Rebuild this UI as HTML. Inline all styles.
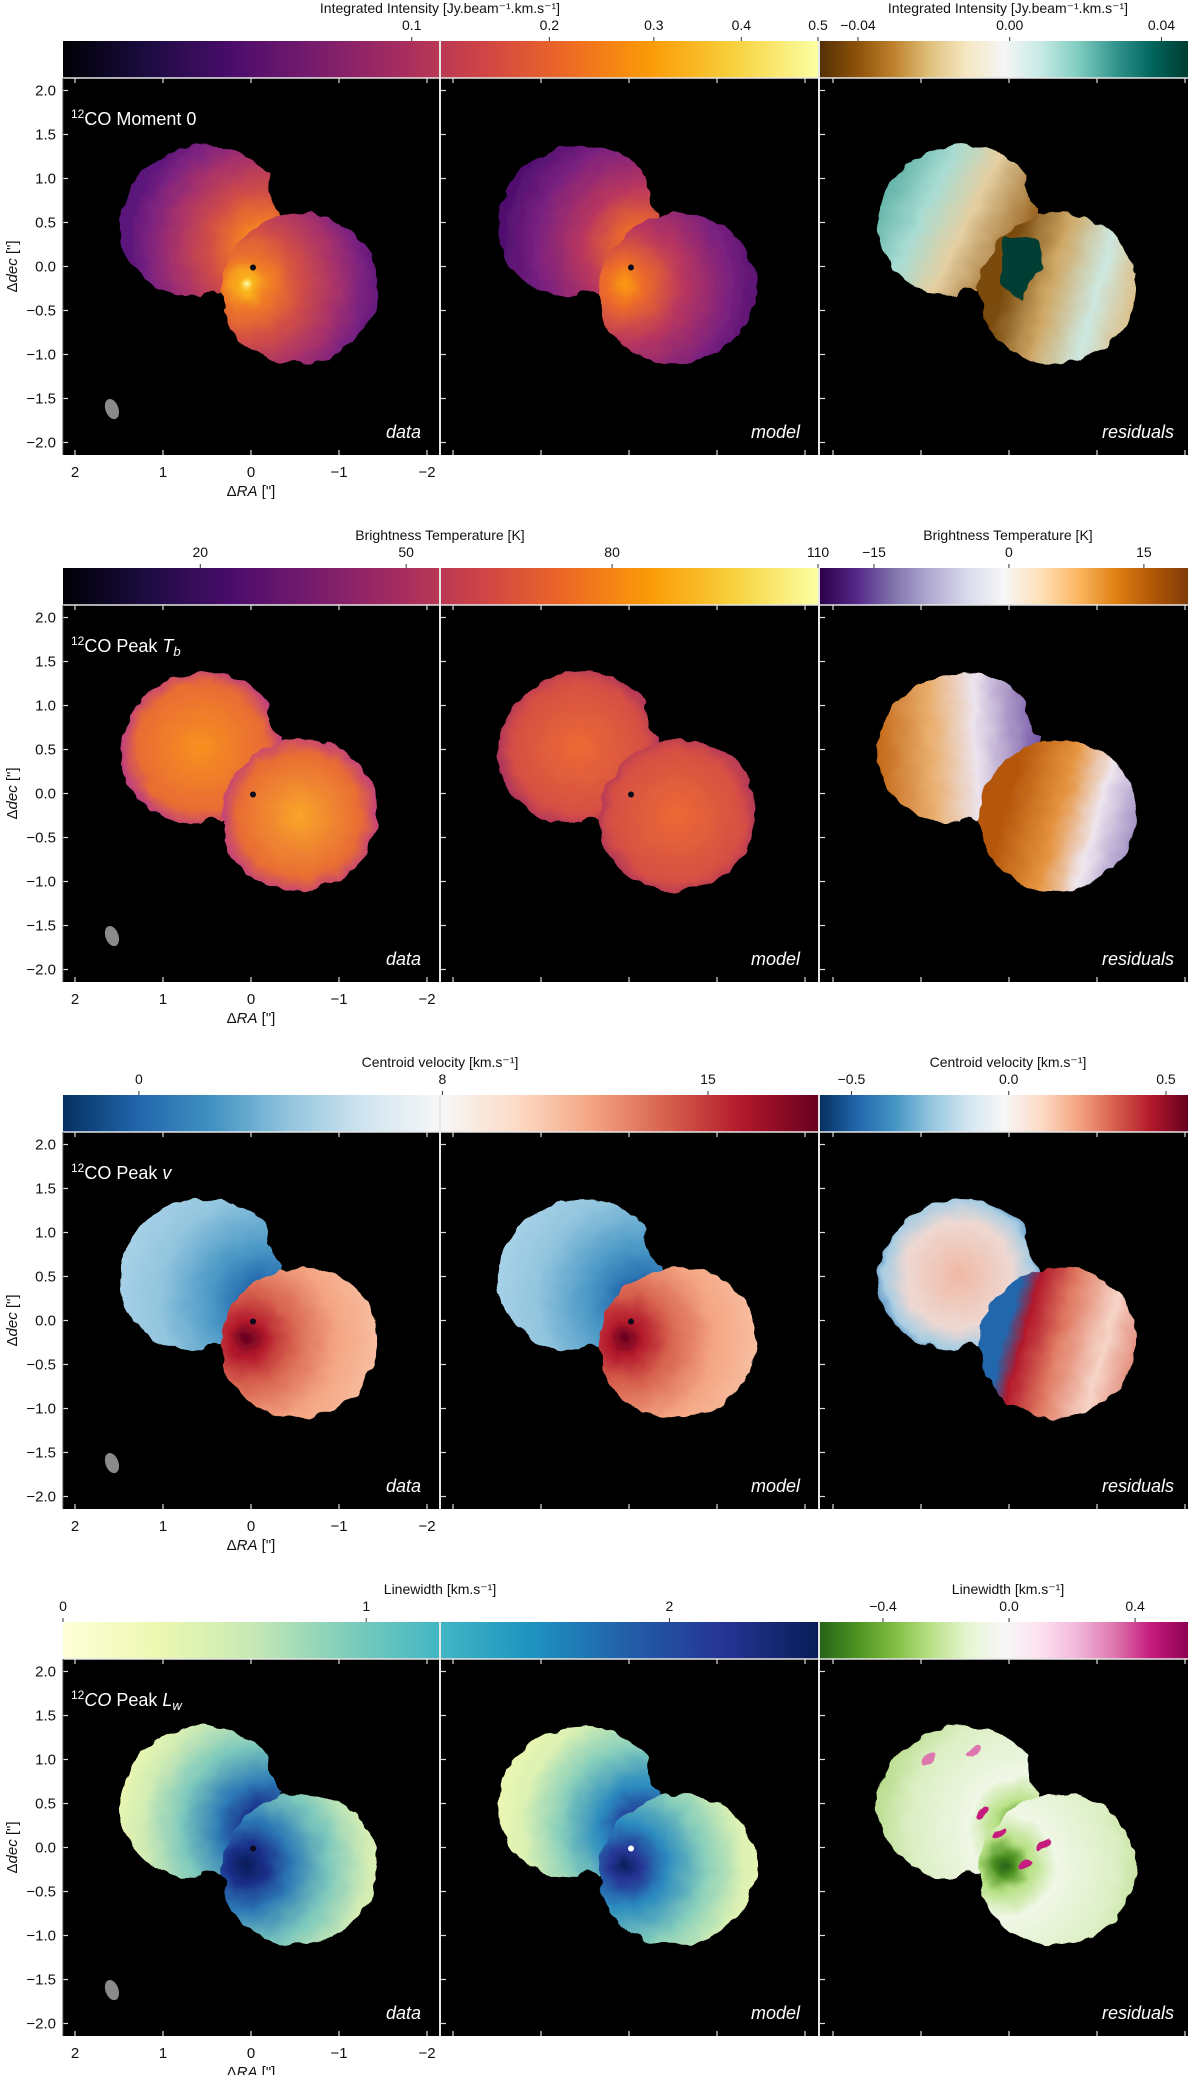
<!DOCTYPE html>
<html><head><meta charset="utf-8">
<style>
html,body{margin:0;padding:0;background:#fff;}
svg{display:block;font-family:"Liberation Sans","DejaVu Sans",sans-serif;}
</style></head>
<body>
<svg id="fig" width="1200" height="2075" viewBox="0 0 1200 2075" xmlns="http://www.w3.org/2000/svg"></svg>
<script>
// ---- data arrays ----
const rowKeys = ["mom0", "tb", "vel", "lw"];
const leftCbTitles = ["Integrated Intensity [Jy.beam\u207B\u00B9.km.s\u207B\u00B9]", "Brightness Temperature [K]", "Centroid velocity [km.s\u207B\u00B9]", "Linewidth [km.s\u207B\u00B9]"];
const rightCbTitles = ["Integrated Intensity [Jy.beam\u207B\u00B9.km.s\u207B\u00B9]", "Brightness Temperature [K]", "Centroid velocity [km.s\u207B\u00B9]", "Linewidth [km.s\u207B\u00B9]"];
const leftCbDomains = [[0, 0.5], [0, 110], [-2.0, 17.9], [0, 2.49]];
const leftCbGamma = [0.48, 1, 1, 1];
const leftCbTickValues = [[0.1, 0.2, 0.3, 0.4, 0.5], [20, 50, 80, 110], [0, 8, 15], [0, 1, 2]];
const leftCbTickLabels = [["0.1", "0.2", "0.3", "0.4", "0.5"], ["20", "50", "80", "110"], ["0", "8", "15"], ["0", "1", "2"]];
const rightCbDomains = [[-0.05, 0.047], [-21, 19.9], [-0.6, 0.57], [-0.6, 0.568]];
const rightCbTickValues = [[-0.04, 0, 0.04], [-15, 0, 15], [-0.5, 0, 0.5], [-0.4, 0, 0.4]];
const rightCbTickLabels = [["\u22120.04", "0.00", "0.04"], ["\u221215", "0", "15"], ["\u22120.5", "0.0", "0.5"], ["\u22120.4", "0.0", "0.4"]];
const raTicks = [2, 1, 0, -1, -2];
const raTickLabels = ["2", "1", "0", "\u22121", "\u22122"];
const decTicks = [2.0, 1.5, 1.0, 0.5, 0.0, -0.5, -1.0, -1.5, -2.0];
const decTickLabels = ["2.0", "1.5", "1.0", "0.5", "0.0", "\u22120.5", "\u22121.0", "\u22121.5", "\u22122.0"];
const panelNames = ["data", "model", "residuals"];
const cmapLeft = [
 ["#000004","#1b0c41","#4a0c6b","#781c6d","#a52c60","#cf4446","#ed6925","#fb9b06","#f7d13d","#fcffa4"],
 ["#000004","#1b0c41","#4a0c6b","#781c6d","#a52c60","#cf4446","#ed6925","#fb9b06","#f7d13d","#fcffa4"],
 ["#053061","#2166ac","#4393c3","#92c5de","#d1e5f0","#f7f7f7","#fddbc7","#f4a582","#d6604d","#b2182b","#67001f"],
 ["#ffffd9","#edf8b1","#c7e9b4","#7fcdbb","#41b6c4","#1d91c0","#225ea8","#253494","#081d58"]];
const cmapRight = [
 ["#543005","#8c510a","#bf812d","#dfc27d","#f6e8c3","#f5f5f5","#c7eae5","#80cdc1","#35978f","#01665e","#003c30"],
 ["#2d004b","#542788","#8073ac","#b2abd2","#d8daeb","#f7f7f7","#fee0b6","#fdb863","#e08214","#b35806","#7f3b08"],
 ["#053061","#2166ac","#4393c3","#92c5de","#d1e5f0","#f7f7f7","#fddbc7","#f4a582","#d6604d","#b2182b","#67001f"],
 ["#276419","#4d9221","#7fbc41","#b8e186","#e6f5d0","#f7f7f7","#fde0ef","#f1b6da","#de77ae","#c51b7d","#8e0152"]];

// ---- layout ----
const NS = "http://www.w3.org/2000/svg";
const svg = document.getElementById("fig");
const ROW_PITCH = 527, CB_TOP = 41, CB_H = 37, PANEL_H = 377, SCALE = 88;
const panelX = [[63, 439], [441, 818], [820, 1188]];
const zeroX = [251, 629, 1009];
const cbL = [63, 818], cbR = [820, 1188];
const defs = document.createElementNS(NS, "defs");
svg.appendChild(defs);

function el(tag, attrs, parent) {
  const e = document.createElementNS(NS, tag);
  for (const k in attrs) e.setAttribute(k, attrs[k]);
  (parent || svg).appendChild(e);
  return e;
}
const flt = el("filter", {id: "rag", x: "-10%", y: "-10%", width: "120%", height: "120%"}, defs);
el("feTurbulence", {type: "fractalNoise", baseFrequency: "0.06", numOctaves: "2", seed: "3", result: "n"}, flt);
el("feDisplacementMap", {in: "SourceGraphic", in2: "n", scale: "10", xChannelSelector: "R", yChannelSelector: "G"}, flt);

function cbScale(dom, range, gamma) {
  return v => range[0] + (range[1] - range[0]) * Math.pow((v - dom[0]) / (dom[1] - dom[0]), gamma);
}
function linGrad(id, stops, x1, y1, x2, y2, user) {
  const g = el("linearGradient", {id: id, x1: x1, y1: y1, x2: x2, y2: y2}, defs);
  if (user) g.setAttribute("gradientUnits", "userSpaceOnUse");
  stops.forEach((s, i) => {
    const off = Array.isArray(s) ? s[0] : i / (stops.length - 1);
    const col = Array.isArray(s) ? s[1] : s;
    el("stop", {offset: off, "stop-color": col}, g);
  });
  return "url(#" + id + ")";
}
function radGrad(id, stops, cx, cy, r) {
  const g = el("radialGradient", {id: id, cx: cx, cy: cy, r: r, gradientUnits: "userSpaceOnUse"}, defs);
  stops.forEach(s => el("stop", {offset: s[0], "stop-color": s[1]}, g));
  return "url(#" + id + ")";
}

const lobeU = {ra: 0.57, dec: 0.52, rx: 0.93, ry: 0.85, rot: -20};
const lobeL = {ra: -0.55, dec: -0.25, rx: 0.9, ry: 0.85, rot: -20};

function fills(r, p, x0, y0) {
  const id = "g" + r + p;
  const R = SCALE;
  const uX = x0 - R * lobeU.ra, uY = y0 - R * lobeU.dec, lX = x0 - R * lobeL.ra, lY = y0 - R * lobeL.dec;
  if (r === 0) {
    if (p === 0) { const f = radGrad(id, [[0,"#fcffa4"],[0.06,"#fbb61a"],[0.18,"#ef7a26"],[0.4,"#d24e45"],[0.65,"#a8326a"],[0.85,"#7c2380"],[1,"#5a157a"]], x0, y0, 1.55*R); return [f, f]; }
    if (p === 1) { const f = radGrad(id, [[0,"#fb9a10"],[0.15,"#ec6a2a"],[0.42,"#b8365f"],[0.75,"#7a2180"],[1,"#4f0f6e"]], x0, y0, 1.6*R); return [f, f]; }
    return [linGrad(id+"u", [[0,"#4fa89c"],[0.35,"#a8dcd3"],[0.62,"#e4cfa2"],[1,"#9a6420"]], x0-1.3*R, y0-1.25*R, x0-0.05*R, y0+0.05*R, true),
            linGrad(id+"l", [[0,"#7a4c10"],[0.3,"#cfa866"],[0.6,"#cde8e0"],[0.85,"#dcc08c"],[1,"#c79a58"]], x0, y0, x0+1.4*R, y0+1.0*R, true)];
  }
  if (r === 1) {
    if (p === 0) return [radGrad(id+"u", [[0,"#f8901e"],[0.72,"#e86c34"],[0.9,"#c2427a"],[1,"#8a2270"]], uX, uY, 1.0*R),
                         radGrad(id+"l", [[0,"#f9a52a"],[0.7,"#e86c34"],[0.9,"#c2427a"],[1,"#8a2270"]], lX, lY, 1.0*R)];
    if (p === 1) return [radGrad(id+"u", [[0,"#ec6a34"],[0.75,"#d64f44"],[1,"#9e2a68"]], uX, uY, 1.0*R),
                         radGrad(id+"l", [[0,"#ec6a34"],[0.75,"#d64f44"],[1,"#9e2a68"]], lX, lY, 1.0*R)];
    return [linGrad(id+"u", [[0,"#c0600e"],[0.35,"#eab070"],[0.6,"#ece4ee"],[1,"#6a4aa0"]], x0-1.5*R, y0-0.9*R, x0+0.4*R, y0-0.3*R, true),
            linGrad(id+"l", [[0,"#b5560a"],[0.35,"#e69440"],[0.6,"#eee6ee"],[1,"#7a66b0"]], x0, y0, x0+1.4*R, y0+1.0*R, true)];
  }
  if (r === 2) {
    if (p === 0 || p === 1) return [radGrad(id+"u", [[0,"#0d3f7a"],[0.12,"#2166ac"],[0.35,"#4a98c6"],[0.7,"#92c5de"],[1,"#a9d2e8"]], x0, y0, 1.7*R),
                                    radGrad(id+"l", [[0,"#67001f"],[0.12,"#b2182b"],[0.3,"#d6604d"],[0.6,"#f4a582"],[1,"#f9c8ae"]], x0, y0, 1.7*R)];
    return [radGrad(id+"u", [[0,"#f0b8a4"],[0.6,"#eed8d2"],[0.85,"#a8cde2"],[1,"#3a7ab8"]], uX, uY, 1.0*R),
            linGrad(id+"l", [[0,"#2166ac"],[0.12,"#b2182b"],[0.35,"#e07a62"],[0.65,"#f6d5c8"],[1,"#d6604d"]], x0, y0, x0+1.4*R, y0+1.0*R, true)];
  }
  if (p === 0) { const f = radGrad(id, [[0,"#081d58"],[0.13,"#1a2f8a"],[0.3,"#2d7ab6"],[0.55,"#7cc8bd"],[0.8,"#cfebb4"],[1,"#edf8b1"]], x0, y0, 1.7*R); return [f, f]; }
  if (p === 1) { const f = radGrad(id, [[0,"#081d58"],[0.1,"#253494"],[0.28,"#2a8abf"],[0.55,"#8ad0bb"],[0.8,"#dcf1b3"],[1,"#edf8b1"]], x0, y0, 1.7*R); return [f, f]; }
  const f = radGrad(id, [[0,"#276419"],[0.07,"#4d9221"],[0.18,"#b8e186"],[0.35,"#f0f7e6"],[0.75,"#dcefc4"],[1,"#b8dc8c"]], x0, y0, 1.7*R); return [f, f];
}

rowKeys.forEach((key, r) => {
  const off = r * ROW_PITCH;
  const cbTop = CB_TOP + off, pTop = cbTop + CB_H, y0 = pTop + PANEL_H / 2;
  const row = el("g", {}, svg);
  
  

  [[cbL, cmapLeft[r], leftCbTitles[r], leftCbDomains[r], leftCbGamma[r], leftCbTickValues[r], leftCbTickLabels[r], "left"],
   [cbR, cmapRight[r], rightCbTitles[r], rightCbDomains[r], 1, rightCbTickValues[r], rightCbTickLabels[r], "right"]].forEach(cb => {
    const [range, cmap, title, dom, gamma, tv, tl, side] = cb;
    const g = el("g", {}, row);
    
    
    const fill = linGrad("cb" + r + side, cmap, 0, 0, 1, 0, false);
    const rect = el("rect", {x: range[0], y: cbTop, width: range[1] - range[0], height: CB_H, fill: fill}, g);
    
    
    const sc = cbScale(dom, range, gamma);
    tv.forEach((v, i) => {
      const x = sc(v);
      el("line", {x1: x, x2: x, y1: cbTop - 4, y2: cbTop, stroke: "#333", "stroke-width": 1}, g);
      const t = el("text", {x: x, y: cbTop - 11, "font-size": 14, "text-anchor": "middle", fill: "#111"}, g);
      t.textContent = tl[i];
      
      
    });
    const tt = el("text", {x: side === "left" ? 440 : 1008, y: cbTop - 28, "font-size": 14, "text-anchor": "middle", fill: "#111"}, g);
    tt.textContent = title;
    
    
  });

  panelX.forEach((px, p) => {
    const x0 = zeroX[p];
    const g = el("g", {}, row);
    
    
    const cid = "clip" + r + p;
    const cp = el("clipPath", {id: cid}, defs);
    el("rect", {x: px[0], y: pTop, width: px[1] - px[0], height: PANEL_H}, cp);
    el("rect", {x: px[0], y: pTop, width: px[1] - px[0], height: PANEL_H, fill: "#000"}, g);
    const clipG = el("g", {"clip-path": "url(#" + cid + ")"}, g);
    const img = el("g", {filter: "url(#rag)"}, clipG);
    
    
    const f = fills(r, p, x0, y0);
    [lobeU, lobeL].forEach((lb, i) => {
      const cx = x0 - SCALE * lb.ra, cy = y0 - SCALE * lb.dec;
      const e = el("ellipse", {cx: cx, cy: cy, rx: SCALE * lb.rx, ry: SCALE * lb.ry, transform: "rotate(" + lb.rot + " " + cx + " " + cy + ")", fill: f[i]}, img);
      
      
    });
    el("ellipse", {cx: x0 + 0.42 * SCALE, cy: y0 - 0.95 * SCALE, rx: 0.22 * SCALE, ry: 0.35 * SCALE, fill: "#000"}, img);
    el("ellipse", {cx: x0 - 0.45 * SCALE, cy: y0 + 0.45 * SCALE, rx: 0.15 * SCALE, ry: 0.18 * SCALE, fill: "#000"}, img);
    if (r === 0 && p === 2) {
      el("path", {d: `M${x0-0.05*SCALE},${y0-0.35*SCALE} l${0.4*SCALE},${0.05*SCALE} l${0.05*SCALE},${0.3*SCALE} l-${0.15*SCALE},${0.15*SCALE} l-${0.1*SCALE},${0.25*SCALE} l-${0.25*SCALE},-${0.2*SCALE} z`, fill: "#003c30"}, img);
    }
    if (r === 3 && p === 2) {
      [[0.1,0.15],[-0.2,-0.2],[0.3,0.4],[-0.4,0.05],[0.9,1.0],[0.4,1.1]].forEach(q => {
        el("ellipse", {cx: x0 - SCALE*q[0], cy: y0 - SCALE*q[1], rx: 8, ry: 4, transform: `rotate(-40 ${x0 - SCALE*q[0]} ${y0 - SCALE*q[1]})`, fill: q[1] > 0.8 ? "#de77ae" : "#c51b7d"}, img);
      });
    }
    if (p < 2) el("circle", {cx: x0 + 2, cy: y0 + 1, r: 3, fill: r === 3 && p === 1 ? "#fff" : "#0a0a1a"}, clipG);
    if (p === 0) {
      const bx = x0 - SCALE * 1.58, by = y0 + SCALE * 1.62;
      const beam = el("ellipse", {cx: bx, cy: by, rx: 6.5, ry: 10.5, transform: `rotate(-20 ${bx} ${by})`, fill: "#8a8a8a"}, g);
      
      
    }
    raTicks.forEach((v, i) => {
      const x = x0 - SCALE * v;
      if (x < px[0] + 1 || x > px[1] - 1) return;
      el("line", {x1: x, x2: x, y1: pTop, y2: pTop + 5, stroke: "#ddd", "stroke-width": 1.2}, g);
      el("line", {x1: x, x2: x, y1: pTop + PANEL_H - 5, y2: pTop + PANEL_H, stroke: "#ddd", "stroke-width": 1.2}, g);
      if (p === 0) {
        const t = el("text", {x: x, y: pTop + PANEL_H + 22, "font-size": 15, "text-anchor": "middle", fill: "#111"}, g);
        t.textContent = raTickLabels[i];
        
        
      }
    });
    decTicks.forEach((v, i) => {
      const y = y0 - SCALE * v;
      el("line", {x1: px[0], x2: px[0] + 5, y1: y, y2: y, stroke: "#ddd", "stroke-width": 1.2}, g);
      if (p === 0) {
        const t = el("text", {x: 56, y: y + 5, "font-size": 15, "text-anchor": "end", fill: "#111"}, g);
        t.textContent = decTickLabels[i];
        
        
      }
    });
    const lab = el("text", {x: px[1] - (p === 2 ? 14 : 18), y: pTop + PANEL_H - 17, "font-size": 18, "font-style": "italic", "text-anchor": "end", fill: "#fff"}, g);
    lab.textContent = panelNames[p];
    
    
    if (p === 0) {
      const tt = el("text", {x: 71, y: pTop + 47, "font-size": 18, fill: "#fff"}, g);
      
      
      const sup = el("tspan", {"font-size": 12, dy: -7}, tt); sup.textContent = "12";
      if (r === 0) { const a = el("tspan", {dy: 7}, tt); a.textContent = "CO Moment 0"; }
      else if (r === 1) { const a = el("tspan", {dy: 7}, tt); a.textContent = "CO Peak "; const b = el("tspan", {"font-style": "italic"}, tt); b.textContent = "T"; const c = el("tspan", {"font-style": "italic", "font-size": 13, dy: 4}, tt); c.textContent = "b"; }
      else if (r === 2) { const a = el("tspan", {dy: 7}, tt); a.textContent = "CO Peak "; const b = el("tspan", {"font-style": "italic"}, tt); b.textContent = "v"; }
      else { const a = el("tspan", {dy: 7, "font-style": "italic"}, tt); a.textContent = "CO"; const a2 = el("tspan", {}, tt); a2.textContent = " Peak "; const b = el("tspan", {"font-style": "italic"}, tt); b.textContent = "L"; const c = el("tspan", {"font-style": "italic", "font-size": 13, dy: 4}, tt); c.textContent = "w"; }
      const xl = el("text", {x: 251, y: pTop + PANEL_H + 41, "font-size": 15, "text-anchor": "middle", fill: "#111"}, g);
      
      
      const x1 = el("tspan", {}, xl); x1.textContent = "\u0394";
      const x2 = el("tspan", {"font-style": "italic"}, xl); x2.textContent = "RA";
      const x3 = el("tspan", {}, xl); x3.textContent = " [\"]";
      const yl = el("text", {x: 0, y: 0, "font-size": 15, "text-anchor": "middle", fill: "#111", transform: `translate(17 ${y0}) rotate(-90)`}, g);
      
      
      const y1 = el("tspan", {}, yl); y1.textContent = "\u0394";
      const y2 = el("tspan", {"font-style": "italic"}, yl); y2.textContent = "dec";
      const y3 = el("tspan", {}, yl); y3.textContent = " [\"]";
    }
  });
  [440, 819].forEach(x => el("line", {x1: x, x2: x, y1: cbTop, y2: pTop + PANEL_H, stroke: "#e6e6e6", "stroke-width": 2}, row));
  el("line", {x1: 63, x2: 1188, y1: pTop, y2: pTop, stroke: "#e6e6e6", "stroke-width": 1.5}, row);
  el("line", {x1: 63, x2: 63, y1: pTop, y2: pTop + PANEL_H, stroke: "#444", "stroke-width": 1}, row);
});
</script>
</body></html>
